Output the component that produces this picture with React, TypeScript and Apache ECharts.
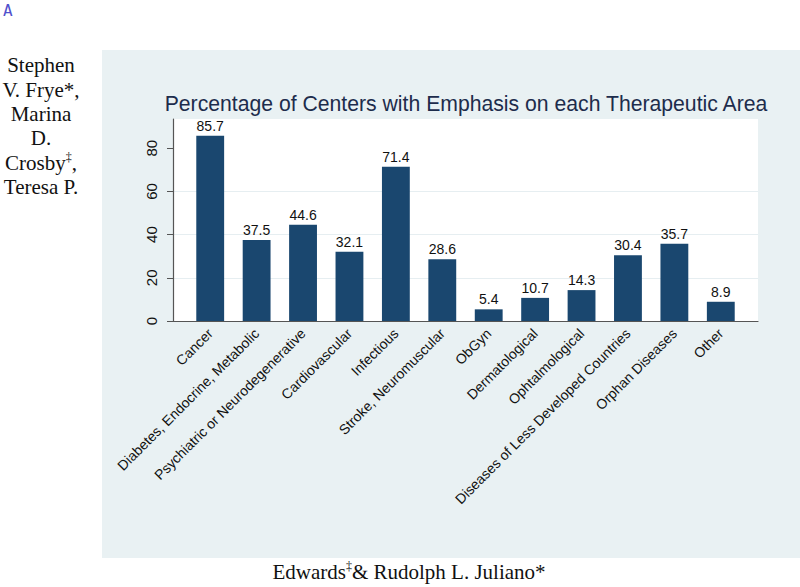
import React, { useEffect, useRef } from "react";
import * as echarts from "echarts";

const categories = [
  "Cancer",
  "Diabetes, Endocrine, Metabolic",
  "Psychiatric or Neurodegenerative",
  "Cardiovascular",
  "Infectious",
  "Stroke, Neuromuscular",
  "ObGyn",
  "Dermatological",
  "Ophtalmological",
  "Diseases of Less Developed Countries",
  "Orphan Diseases",
  "Other",
];
const values = [85.7, 37.5, 44.6, 32.1, 71.4, 28.6, 5.4, 10.7, 14.3, 30.4, 35.7, 8.9];
const yTicks = [0, 20, 40, 60, 80];
const titleText = "Percentage of Centers with Emphasis on each Therapeutic Area";
const authorsLeft = "Stephen\nV. Frye*,\nMarina\nD.\nCrosby{s|‡},\nTeresa P.";
const authorsBottom = "Edwards{s|‡}& Rudolph L. Juliano*";

const Y_MAX = 93.5;

export default function App() {
  const ref = useRef<HTMLDivElement>(null);
  useEffect(() => {
    if (!ref.current) return;
    const chart = echarts.init(ref.current, undefined, { renderer: "svg" });
    const serif = "'Liberation Serif', 'DejaVu Serif', serif";
    const sans = "'Liberation Sans', Arial, sans-serif";
    chart.setOption({
      animation: false,
      backgroundColor: "#ffffff",
      graphic: [
        {
          type: "rect",
          z: -100,
          silent: true,
          shape: { x: 102, y: 50, width: 698, height: 508 },
          style: { fill: "#e9f1f3" },
        },
        {
          type: "text",
          x: 3,
          y: 2,
          style: {
            text: "A",
            fontFamily: "'DejaVu Sans Mono', monospace",
            fontSize: 16,
            fontWeight: "normal",
            fill: "#5050cc",
          },
        },
        {
          type: "text",
          x: 41,
          y: 53,
          style: {
            text: authorsLeft,
            fontFamily: serif,
            fontSize: 21,
            lineHeight: 24.4,
            fill: "#111",
            align: "center",
            rich: {
              s: { fontSize: 12, verticalAlign: "top", lineHeight: 16, fontFamily: serif, fill: "#111", color: "#111" },
            },
          },
        },
        {
          type: "text",
          x: 409,
          y: 572,
          style: {
            text: authorsBottom,
            fontFamily: serif,
            fontSize: 21,
            lineHeight: 24,
            fill: "#111",
            align: "center",
            verticalAlign: "middle",
            rich: {
              s: { fontSize: 12, verticalAlign: "top", lineHeight: 16, fontFamily: serif, fill: "#111", color: "#111" },
            },
          },
        },
      ],
      title: {
        text: titleText,
        left: 461,
        textAlign: "center",
        top: 88,
        textStyle: {
          fontFamily: sans,
          fontSize: 21.2,
          fontWeight: "normal",
          color: "#1d2c4c",
        },
      },
      grid: [
        { left: 187, right: 56, top: 119, bottom: 266, containLabel: false },
        {
          left: 173,
          right: 42,
          top: 119,
          bottom: 266,
          show: true,
          backgroundColor: "#ffffff",
          borderWidth: 0,
          z: -1,
        },
      ],
      xAxis: [
        {
          type: "category",
          gridIndex: 0,
          data: categories,
          axisLine: { show: false },
          axisTick: { show: false },
          axisLabel: {
            rotate: 45,
            interval: 0,
            margin: 10,
            fontFamily: sans,
            fontSize: 14,
            color: "#111",
          },
        },
        {
          type: "value",
          gridIndex: 1,
          min: 0,
          max: 1,
          axisLine: { show: true, lineStyle: { color: "#555", width: 1.2 } },
          axisTick: { show: false },
          axisLabel: { show: false },
          splitLine: { show: false },
        },
      ],
      yAxis: [
        { type: "value", gridIndex: 0, min: 0, max: Y_MAX, show: false, splitLine: { show: false } },
        {
          type: "value",
          gridIndex: 1,
          min: 0,
          max: Y_MAX,
          interval: 20,
          axisLine: { show: true, lineStyle: { color: "#555", width: 1.2 } },
          axisTick: {
            show: true,
            length: 6,
            lineStyle: { color: "#555" },
            customValues: yTicks,
          },
          axisLabel: {
            rotate: 90,
            margin: 14,
            fontFamily: sans,
            fontSize: 15,
            color: "#111",
            customValues: yTicks,
          },
          splitLine: {
            show: true,
            showMinLine: false,
            showMaxLine: false,
            lineStyle: { color: "#e6eef1", width: 1 },
          },
        },
      ],
      series: [
        {
          type: "bar",
          xAxisIndex: 0,
          yAxisIndex: 0,
          data: values,
          barWidth: "60%",
          itemStyle: { color: "#1a476f" },
          label: {
            show: true,
            position: "top",
            distance: 3,
            fontFamily: sans,
            fontSize: 14,
            color: "#111",
          },
          z: 5,
        },
      ],
    });
    return () => chart.dispose();
  }, []);
  return (
    <div
      ref={ref}
      style={{ position: "absolute", left: 0, top: 0, width: 800, height: 587 }}
    />
  );
}
